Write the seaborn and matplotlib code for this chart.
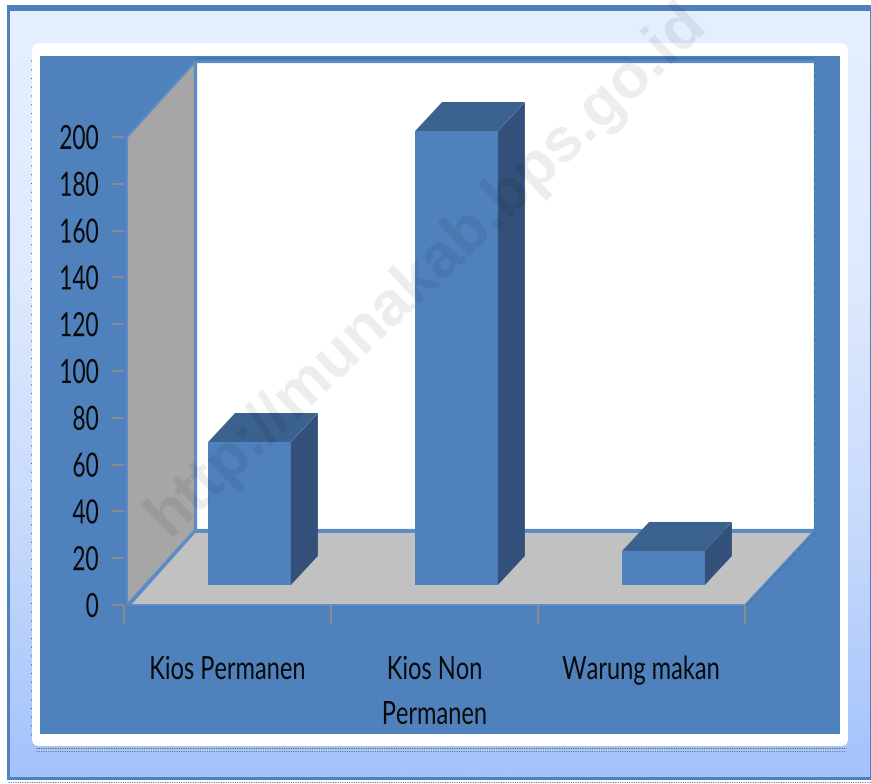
import numpy as np
import pandas as pd
import matplotlib
matplotlib.use("Agg")
import matplotlib.pyplot as plt
from matplotlib.colors import LinearSegmentedColormap
from matplotlib.patches import Polygon, FancyBboxPatch, Rectangle
from matplotlib.patheffects import AbstractPathEffect
from matplotlib.transforms import Affine2D
import seaborn as sns

categories = ["Kios Permanen", "Kios Non Permanen", "Warung makan"]
tick_labels = ["Kios Permanen", "Kios Non\nPermanen", "Warung makan"]
values = [63, 200, 15]
y_ticks = list(range(0, 201, 20))

W, H = 871, 784
BLUE = "#4f81bd"
sns.set_theme(style="white")
plt.rcParams["font.family"] = ["Lato", "DejaVu Sans"]


class Squeeze(AbstractPathEffect):
    """Narrow a text horizontally about its centre or right edge."""
    def __init__(self, factor, anchor="center"):
        super().__init__()
        self.factor, self.anchor = factor, anchor

    def draw_path(self, renderer, gc, tpath, affine, rgbFace=None):
        ext = tpath.get_extents(affine)
        ref = ext.x1 if self.anchor == "right" else (ext.x0 + ext.x1) / 2
        squeeze = Affine2D().translate(-ref, 0).scale(self.factor, 1).translate(ref, 0)
        renderer.draw_path(gc, tpath, affine + squeeze, rgbFace)


fig = plt.figure(figsize=(W / 100, H / 100), dpi=100, facecolor="white")

def axes_px(x0, y0, x1, y1, **kw):
    return fig.add_axes([x0 / W, 1 - y1 / H, (x1 - x0) / W, (y1 - y0) / H], **kw)

# decoration layer in pixel coordinates
bg = fig.add_axes([0, 0, 1, 1])
bg.set_xlim(0, W); bg.set_ylim(H, 0); bg.axis("off")
cmap = LinearSegmentedColormap.from_list("g", ["#e6efff", "#dfeafd", "#c8dafc", "#a4c2fb"])
bg.add_patch(Rectangle((7, 5), 864, 775, fc=BLUE, ec="none", zorder=0))
bg.imshow(np.linspace(0, 1, 256)[:, None], cmap=cmap, aspect="auto",
          extent=(10, 869, 777, 11), zorder=1)
bg.set_xlim(0, W); bg.set_ylim(H, 0)
bg.add_patch(FancyBboxPatch((36, 47), 808, 695, boxstyle="round,pad=4,rounding_size=7",
                            fc="white", ec="none", zorder=2))
bg.add_patch(Rectangle((40, 56), 800, 678, fc=BLUE, ec="none", zorder=3))
bg.add_patch(Rectangle((196, 62), 619, 468, fc="white", ec="#5b8cc6", lw=1.6, zorder=4))
bg.add_patch(Polygon([(127, 137), (195, 62), (195, 530), (127, 605)], fc="#a6a6a6",
                     ec="#5b8cc6", lw=1.6, zorder=5))
bg.add_patch(Polygon([(130, 605), (195, 532), (813, 532), (745, 605)], fc="#c1c1c1",
                     ec="#5b8cc6", lw=1.3, zorder=5))
bg.plot([745, 815, 815], [607, 532, 62], color="#41799f", lw=1, ls=(0, (4, 1)), zorder=5)
bg.plot([196, 815], [58, 58], color="#2f6a9f", lw=1, ls=(0, (1, 1)), zorder=5)
for yy, c in [(748, "#555555"), (751, "#777777"), (782, "#4f6f99")]:
    bg.plot([36 if yy < 780 else 8, 846 if yy < 780 else 871], [yy, yy], color=c, lw=0.7,
            ls=(0, (1.2, 1.2)), zorder=2)
bg.plot([31, 31], [60, 740], color="#555555", lw=0.7, ls=(0, (1, 8)), zorder=2)

# axis layer: value scale and category labels
ax = axes_px(124, 137, 745, 605, facecolor="none")
ax.set_xlim(-0.5, 2.5)
ax.set_ylim(0, 200)
sns.despine(ax=ax, left=True, bottom=True)
ax.set_yticks(y_ticks)
ax.set_yticklabels([str(t) for t in y_ticks], fontsize=24, color="#0a0a0a")
ax.tick_params(axis="y", length=9, width=1.4, color="#8c8c8c", pad=9, left=True)
for t in ax.get_yticklabels():
    t.set_path_effects([Squeeze(0.68, "right")])
ax.set_xticks([0, 1, 2])
ax.set_xticklabels(tick_labels, fontsize=23, color="#0a0a0a", linespacing=1.62, va="top")
ax.set_xticks([-0.5, 0.5, 1.5, 2.5], minor=True)
ax.tick_params(axis="x", which="major", length=0, pad=36)
ax.tick_params(axis="x", which="minor", length=14, width=1.4, color="#8c8c8c", bottom=True)
for t in ax.get_xticklabels():
    t.set_path_effects([Squeeze(0.74)])
ax.grid(False)

# bar layer: sits on the floor of the 3D box
bx = axes_px(146, 131, 767, 585, facecolor="none")
df = pd.DataFrame({"kategori": categories, "jumlah": values})
sns.barplot(data=df, x="kategori", y="jumlah", color=BLUE, saturation=1, width=0.4,
            linewidth=0, ax=bx)
bx.set_xlim(-0.5, 2.5)
bx.set_ylim(0, 200)
bx.axis("off")
dx = 27 / (621 / 3)
dy = 29 / (454 / 200)
for bar in list(bx.patches):
    x0, w, h = bar.get_x(), bar.get_width(), bar.get_height()
    x1 = x0 + w
    bx.add_patch(Polygon([(x1, 0), (x1 + dx, dy), (x1 + dx, h + dy), (x1, h)],
                         fc="#325079", ec="none", clip_on=False, zorder=3))
    bx.add_patch(Polygon([(x0, h), (x0 + dx, h + dy), (x1 + dx, h + dy), (x1, h)],
                         fc="#3b618f", ec="none", clip_on=False, zorder=3))

# watermark
fig.text(427 / W, 1 - 270 / H, "http://munakab.bps.go.id", fontsize=45, fontweight="bold",
         family="Liberation Sans", color="black", alpha=0.075, rotation=43.5,
         ha="center", va="center", rotation_mode="anchor", zorder=20)

fig.savefig("out.png", dpi=100)
